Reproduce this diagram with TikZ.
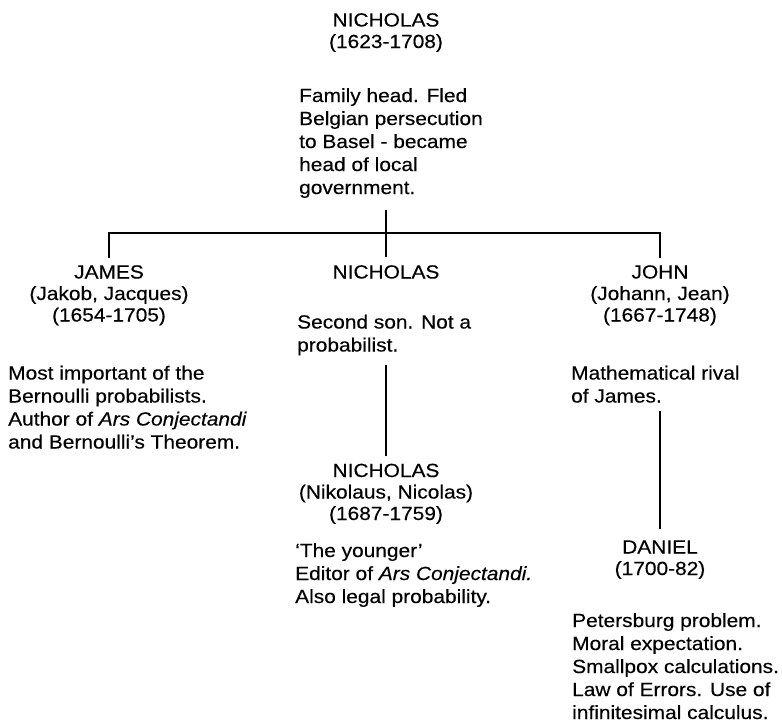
\documentclass[tikz,border=0pt]{standalone}
\usepackage{fontspec}
\setmainfont[FakeStretch=1.1,FakeBold=0.3]{Liberation Sans}
\usepackage{tikz}
\usetikzlibrary{positioning}

\begin{document}
\begin{tikzpicture}[x=1pt,y=-1pt,
  head/.style={align=center,inner sep=0pt,anchor=base,font=\fontsize{19}{21.5}\selectfont},
  desc/.style={align=left,inner sep=0pt,anchor=base west,font=\fontsize{19}{23}\selectfont},
  famline/.style={line width=1.3pt}]
\useasboundingbox (0,0) rectangle (782,728);
\node (tophead) at (386,48) [head] {NICHOLAS\\(1623-1708)};
\node (topdesc) at (299,194) [desc] {Family head. Fled\\Belgian persecution\\to Basel - became\\head of local\\government.};
\node (james) at (109,321.5) [head] {JAMES\\(Jakob, Jacques)\\(1654-1705)};
\node (jamesdesc) at (8,448.5) [desc] {Most important of the\\Bernoulli probabilists.\\Author of \textit{Ars Conjectandi}\\and Bernoulli's Theorem.};
\node (midhead) at (386,278.5) [head] {NICHOLAS};
\node (middesc) at (297,351.5) [desc] {Second son. Not a\\probabilist.};
\node (john) at (660,321.5) [head] {JOHN\\(Johann, Jean)\\(1667-1748)};
\node (johndesc) at (571,402.5) [desc] {Mathematical rival\\of James.};
\node (nichjr) at (386,520) [head] {NICHOLAS\\(Nikolaus, Nicolas)\\(1687-1759)};
\node (nichjrdesc) at (295,603) [desc] {`The younger'\\Editor of \textit{Ars Conjectandi.}\\Also legal probability.};
\node (daniel) at (660,575) [head] {DANIEL\\(1700-82)};
\node (danieldesc) at (572,719) [desc] {Petersburg problem.\\Moral expectation.\\Smallpox calculations.\\Law of Errors. Use of\\infinitesimal calculus.};
\coordinate (bar) at (386,233);
\draw [famline,shorten <=12pt,shorten >=8pt] (tophead |- topdesc.south) -- (midhead.north);
\draw [famline,shorten <=7pt,shorten >=7pt] (james.north) -- (james.north |- bar) -- (john.north |- bar) -- (john.north);
\draw [famline,shorten <=9.5pt,shorten >=8pt] (midhead |- middesc.south) -- (nichjr.north);
\draw [famline,shorten <=8.5pt,shorten >=11pt] (john |- johndesc.south) -- (daniel.north);
\end{tikzpicture}
\end{document}
